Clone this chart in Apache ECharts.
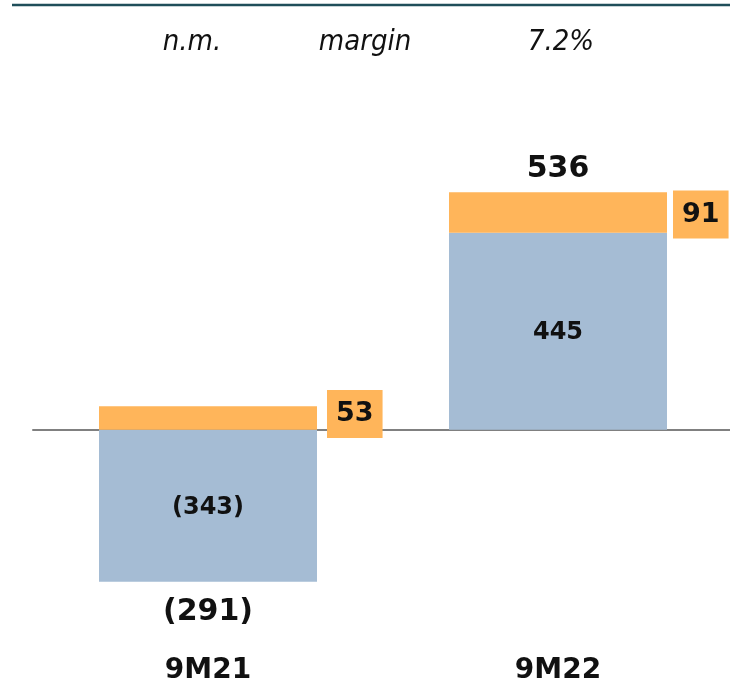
<!DOCTYPE html>
<html>
<head>
<meta charset="utf-8">
<script src="https://cdn.jsdelivr.net/npm/echarts@6/dist/echarts.min.js"></script>
<style>
  html, body { margin: 0; padding: 0; background: #fff; }
  #chart { width: 730px; height: 688px; }
</style>
</head>
<body>
<div id="chart"></div>
<script>
// data
var categories = ['9M21', '9M22']
var baseValues = [-343, 445]       // blue part
var addValues = [53, 91]           // orange part
var totals = [-291, 536]
var marginLabels = ['n.m.', 'margin', '7.2%']

var BLUE = '#a5bcd4'
var ORANGE = '#ffb55a'
var NUM_FONT = '"DejaVu Sans", Verdana, sans-serif'
var addLabelShift = [[1, -4], [-3, 2]]   // small nudges of the orange boxes

function fmt(v) {
  return v < 0 ? '(' + Math.abs(v) + ')' : String(v)
}

// where the total label hangs: top of the positive stack or bottom of the negative one
var totalAnchors = totals.map(function (t, i) {
  if (t >= 0) return [i, Math.max(0, baseValues[i]) + Math.max(0, addValues[i])]
  return [i, Math.min(0, baseValues[i]) + Math.min(0, addValues[i])]
})

var chart = echarts.init(document.getElementById('chart'))
chart.setOption({
  animation: false,
  grid: { left: 33, width: 700, top: 164, bottom: 81, outerBoundsMode: 'none' },
  xAxis: [
    {
      type: 'category',
      data: categories,
      axisLine: { onZero: true, lineStyle: { color: '#808080', width: 2 } },
      axisTick: { show: false },
      axisLabel: { show: false }
    },
    {
      type: 'category',
      data: categories,
      position: 'bottom',
      axisLine: { show: false },
      axisTick: { show: false },
      axisLabel: {
        margin: 50,
        color: '#111',
        fontSize: 28,
        fontWeight: 'bold',
        fontFamily: NUM_FONT
      }
    }
  ],
  yAxis: {
    type: 'value',
    min: -400,
    max: 600,
    show: false,
    splitLine: { show: false }
  },
  graphic: [
    {
      type: 'line',
      shape: { x1: 12, y1: 5, x2: 730, y2: 5 },
      style: { stroke: '#1f4e5a', lineWidth: 2.5 }
    }
  ].concat(marginLabels.map(function (txt, i) {
    var xs = [192, 365, 561]
    return {
      type: 'text',
      x: xs[i],
      y: 42,
      style: {
        text: txt,
        align: 'center',
        verticalAlign: 'middle',
        fill: '#111',
        fontSize: 29,
        fontStyle: 'italic',
        fontFamily: '"DejaVu Sans Condensed", "Liberation Sans Narrow", "Open Sans", sans-serif'
      }
    }
  })),
  series: [
    {
      name: 'base',
      type: 'bar',
      stack: 'total',
      barWidth: 218,
      data: baseValues,
      itemStyle: { color: BLUE },
      label: {
        show: true,
        position: 'inside',
        offset: [0, 2],
        formatter: function (p) { return fmt(p.value) },
        color: '#111',
        fontSize: 24,
        fontWeight: 'bold',
        fontFamily: NUM_FONT
      }
    },
    {
      name: 'add',
      type: 'bar',
      stack: 'total',
      barWidth: 218,
      data: addValues.map(function (v, i) {
        return { value: v, label: { offset: addLabelShift[i] } }
      }),
      itemStyle: { color: ORANGE },
      label: {
        show: true,
        position: 'right',
        distance: 9,
        formatter: function (p) { return fmt(p.value) },
        backgroundColor: ORANGE,
        padding: [9, 9, 9, 9],
        lineHeight: 30,
        color: '#111',
        fontSize: 27,
        fontWeight: 'bold',
        fontFamily: NUM_FONT
      }
    },
    {
      name: 'totals',
      type: 'scatter',
      symbolSize: 1,
      itemStyle: { color: 'rgba(0,0,0,0)', opacity: 1 },
      z: 10,
      data: totalAnchors.map(function (a, i) {
        return {
          value: a,
          label: {
            position: totals[i] >= 0 ? 'top' : 'bottom',
            distance: totals[i] >= 0 ? 8 : 15
          }
        }
      }),
      label: {
        show: true,
        formatter: function (p) { return fmt(totals[p.dataIndex]) },
        color: '#111',
        opacity: 1,
        fontSize: 30,
        fontWeight: 'bold',
        fontFamily: NUM_FONT
      }
    }
  ]
})
</script>
</body>
</html>
